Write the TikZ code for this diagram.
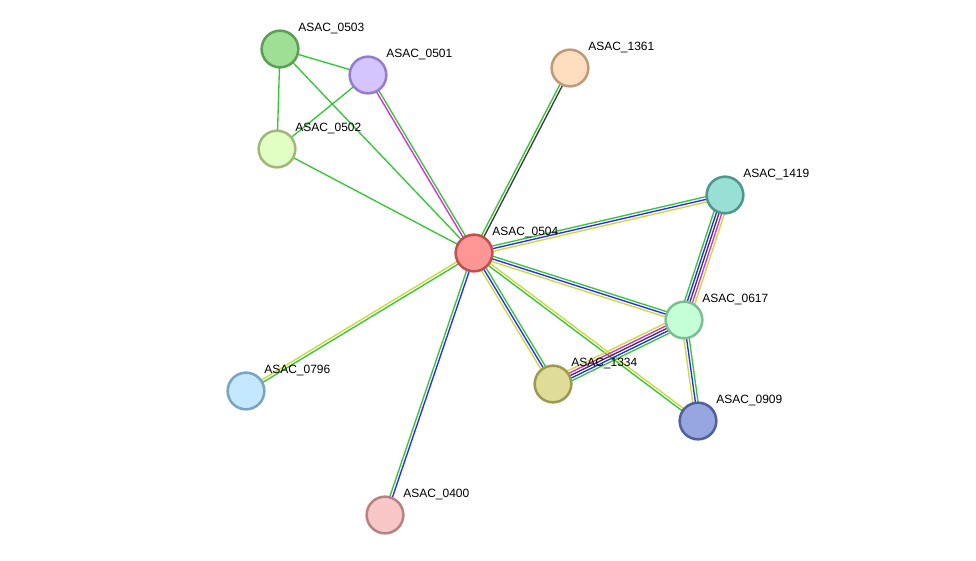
\documentclass[tikz,border=0pt]{standalone}
\usepackage{fontspec}
\setmainfont{Liberation Sans}
\usepackage {tikz}
\usetikzlibrary{calc,backgrounds}
\usepackage {xcolor}

\definecolor{lgreen}{RGB}{50,200,50}
\definecolor{lblue}{RGB}{40,40,250}
\definecolor{lyellow}{RGB}{200,220,50}
\definecolor{lmagenta}{RGB}{220,40,220}
\definecolor{lgray}{RGB}{60,60,60}

% node colours: fill and border
\definecolor{f0504}{RGB}{255,150,150} \definecolor{b0504}{RGB}{190,80,80}
\definecolor{f0503}{RGB}{160,224,150} \definecolor{b0503}{RGB}{90,160,80}
\definecolor{f0501}{RGB}{212,196,255} \definecolor{b0501}{RGB}{150,125,200}
\definecolor{f1361}{RGB}{255,222,192} \definecolor{b1361}{RGB}{190,155,120}
\definecolor{f0502}{RGB}{226,255,196} \definecolor{b0502}{RGB}{160,185,120}
\definecolor{f1419}{RGB}{152,224,214} \definecolor{b1419}{RGB}{80,150,140}
\definecolor{f0617}{RGB}{196,255,216} \definecolor{b0617}{RGB}{125,190,150}
\definecolor{f1334}{RGB}{222,220,150} \definecolor{b1334}{RGB}{155,155,80}
\definecolor{f0909}{RGB}{152,166,224} \definecolor{b0909}{RGB}{80,95,160}
\definecolor{f0796}{RGB}{196,232,255} \definecolor{b0796}{RGB}{120,165,195}
\definecolor{f0400}{RGB}{248,200,200} \definecolor{b0400}{RGB}{185,130,130}

% protein node
\tikzset{
  prot/.style={circle, minimum size=27.5pt, inner sep=0pt, line width=1.9pt, fill=f#1, draw=b#1},
  lab/.style={font=\fontsize{9}{9}\selectfont, anchor=west, inner sep=0pt},
  edge/.style={line width=1pt}
}

% parallel lines between two nodes, one per evidence colour
\newcommand\link[3]{%
  \foreach \c [count=\i] in {#3} {\xdef\nlinks{\i}}
  \foreach \c [count=\i] in {#3} {
    \pgfmathsetmacro\off{(\i-(\nlinks+1)/2)*2}
    \draw[edge, \c] ($(#1.center)!\off pt!90:(#2.center)$) -- ($(#2.center)!\off pt!-90:(#1.center)$);
  }}

\begin{document}
\begin{tikzpicture}[x=0.75pt, y=-0.75pt]
\useasboundingbox (0,0) rectangle (976,561);

\node[prot=0504] (n0504) at (474,253) {};
\node[prot=0503] (n0503) at (280,49) {};
\node[prot=0501] (n0501) at (368,75) {};
\node[prot=1361] (n1361) at (570,68) {};
\node[prot=0502] (n0502) at (277,149) {};
\node[prot=1419] (n1419) at (725,195) {};
\node[prot=0617] (n0617) at (684,320) {};
\node[prot=1334] (n1334) at (553,384) {};
\node[prot=0909] (n0909) at (698,421) {};
\node[prot=0796] (n0796) at (246,391) {};
\node[prot=0400] (n0400) at (385,515) {};

% labels
\foreach \n in {0504,0503,0501,1361,0502,1419,0617,1334,0909,0796,0400}{
    \node[lab] (l\n) at ($(n\n.center)+(18,-20.5)$) {ASAC\_\n};
}

\begin{scope}[on background layer]
\link{n0503}{n0501}{lgreen}
\link{n0503}{n0502}{lgreen}
\link{n0503}{n0504}{lgreen}
\link{n0501}{n0502}{lgreen}
\link{n0502}{n0504}{lgreen}
\link{n0504}{n0501}{lgreen,lmagenta}
\link{n0504}{n1361}{lgray,lgreen}
\link{n0504}{n1419}{lyellow,lblue,lgreen}
\link{n0504}{n0617}{lyellow,lblue,lgreen}
\link{n0504}{n1334}{lyellow,lblue,lgreen}
\link{n0504}{n0909}{lgreen,lyellow}
\link{n0504}{n0796}{lyellow,lgreen}
\link{n0504}{n0400}{lgreen,lblue}
\link{n0617}{n1419}{lyellow,lmagenta,lgray,lblue,lgreen}
\link{n1334}{n0617}{lgreen,lblue,lgray,lmagenta,lyellow}
\link{n0617}{n0909}{lyellow,lblue,lgreen}
\end{scope}

\end{tikzpicture}
\end{document}
